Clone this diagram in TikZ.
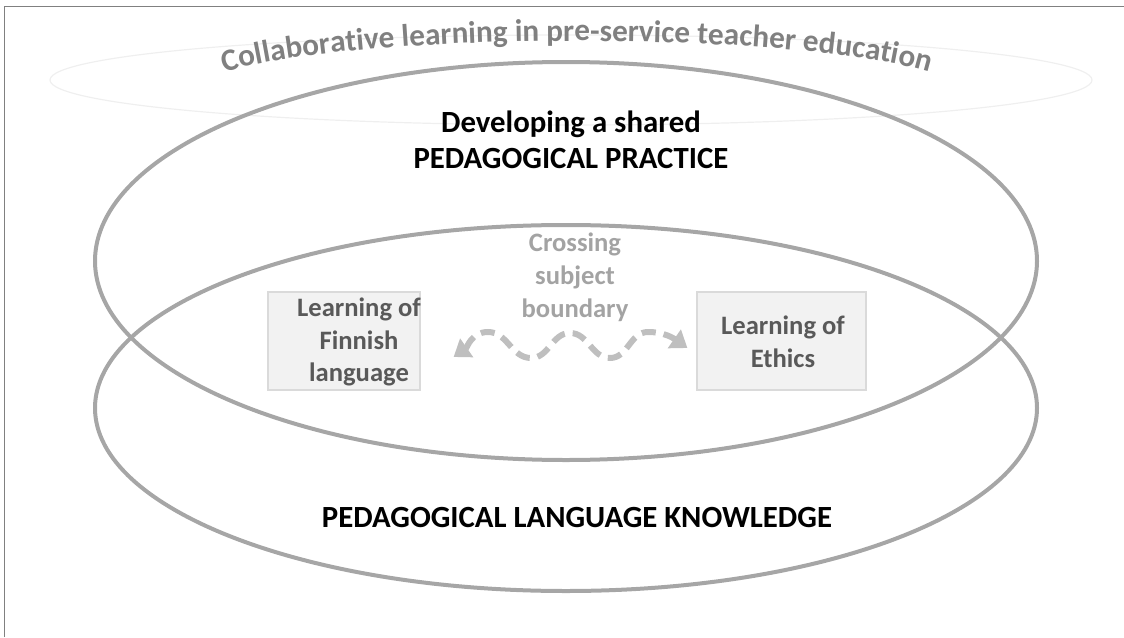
\documentclass[tikz,border=0pt]{standalone}
\usepackage{xcolor}
\usepackage{fontspec}
\setmainfont{Carlito}
\usepackage{tikz}
\usetikzlibrary{arrows.meta, decorations.text}
\definecolor{ringgray}{HTML}{A6A6A6}
\definecolor{faintgray}{HTML}{EFEFEF}
\definecolor{archgray}{HTML}{808080}
\definecolor{labelgray}{HTML}{A3A3A3}
\definecolor{boxfill}{HTML}{F2F2F2}
\definecolor{boxline}{HTML}{DADADA}
\definecolor{boxtext}{HTML}{595959}
\definecolor{wavegray}{HTML}{BFBFBF}
\tikzstyle{ring} = [draw=ringgray, line width=2pt]
\tikzstyle{subjectbox} = [draw=boxline, fill=boxfill, line width=0.6pt, minimum height=49pt]
\tikzstyle{subjectlabel} = [align=center, text=boxtext, font=\fontsize{13.3}{16.4}\selectfont\bfseries]
\tikzstyle{bigtitle} = [align=center, font=\fontsize{15.4}{18.2}\selectfont\bfseries]
\tikzstyle{wave} = [draw=wavegray, line width=3pt, dash pattern=on 7pt off 4pt, {Triangle[length=8pt,width=11pt]}-{Triangle[length=8pt,width=11pt]}]

\begin{document}
\begin{tikzpicture}[x=0.5pt, y=-0.5pt]
            \useasboundingbox (0,0) rectangle (1124,637);
            \draw[gray, line width=0.5pt] (4,637) -- (4,6.5) -- (1124,6.5);
            % outer context
            \draw[faintgray, line width=0.6pt] (571,80) ellipse [x radius=521, y radius=45];
            \path[decorate, decoration={text along path, text align=center,
                text={|\fontsize{15.6}{19}\selectfont\bfseries\color{archgray}|Collaborative learning in pre-service teacher education}}]
                (577,93) ++(188:385 and 52) arc[start angle=188, end angle=352, x radius=385, y radius=52];
            % the two fields
            \draw[ring] (566,261) ellipse [x radius=471, y radius=199];
            \draw[ring] (566,408) ellipse [x radius=471, y radius=183];
            \node[bigtitle] (practice) at (571,140) {Developing a shared\\PEDAGOGICAL PRACTICE};
            \node[bigtitle] (plk) at (577,518) {PEDAGOGICAL LANGUAGE KNOWLEDGE};
            % subjects
            \node[subjectbox, minimum width=76pt] (finnish) at (344,341) {};
            \node[subjectlabel] (finnishtext) at (359,342) {Learning of\\Finnish\\language};
            \node[subjectbox, minimum width=84.5pt] (ethics) at (781.5,341) {};
            \node[subjectlabel] (ethicstext) at (783,342) {Learning of\\Ethics};
            \node[subjectlabel, text=labelgray] (crossing) at (575,277.5) {Crossing\\subject\\boundary};
            \coordinate (wl) at ([xshift=16.5pt,yshift=-8pt]finnish.east);
            \coordinate (wr) at ([xshift=-4.5pt,yshift=-3.5pt]ethics.west);
            \draw[wave] (wl) to[out=35,in=180] (488,332) to[out=0,in=180] (531,358)
                to[out=0,in=180] (570,333) to[out=0,in=180] (610,358)
                to[out=0,in=180] (648,332) to[out=0,in=145] (wr);
        \end{tikzpicture}
\end{document}
